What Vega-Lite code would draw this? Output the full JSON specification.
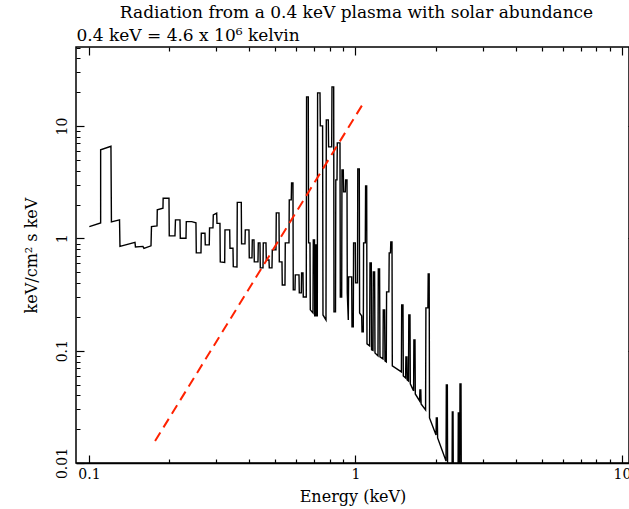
{
  "$schema": "https://vega.github.io/schema/vega-lite/v6.json",
  "usermeta": {"embedOptions": {"actions": false}},
  "width": 553,
  "height": 416,
  "autosize": {"type": "none"},
  "padding": {"left": 76, "top": 47, "right": 0, "bottom": 46},
  "background": "white",
  "config": {"view": {"stroke": "black", "strokeWidth": 1.5}, "font": "DejaVu Serif"},
  "title": {"text": "Radiation from a 0.4 keV plasma with solar abundance", "anchor": "middle", "fontSize": 17, "fontWeight": "normal", "font": "DejaVu Serif", "color": "black", "baseline": "alphabetic", "offset": -9, "dx": 4},
  "datasets": {
    "spectrum": [
      {"i":1,"E":0.1003,"F":1.274},{"i":2,"E":0.1106,"F":1.374},{"i":3,"E":0.1106,"F":6.14},{"i":4,"E":0.1209,"F":6.60},
      {"i":5,"E":0.1214,"F":1.403},{"i":6,"E":0.1302,"F":1.461},{"i":7,"E":0.1307,"F":0.849},{"i":8,"E":0.1488,"F":0.921},
      {"i":9,"E":0.1494,"F":0.840},{"i":10,"E":0.1594,"F":0.849},{"i":11,"E":0.1608,"F":0.815},{"i":12,"E":0.1709,"F":0.858},
      {"i":13,"E":0.1716,"F":1.274},{"i":14,"E":0.1800,"F":1.292},{"i":15,"E":0.1804,"F":1.794},{"i":16,"E":0.1895,"F":1.857},
      {"i":17,"E":0.1898,"F":2.280},{"i":18,"E":0.1996,"F":2.280},{"i":19,"E":0.2001,"F":1.053},{"i":20,"E":0.2102,"F":1.053},
      {"i":21,"E":0.2111,"F":1.461},{"i":22,"E":0.2195,"F":1.461},{"i":23,"E":0.2201,"F":1.004},{"i":24,"E":0.2312,"F":1.004},
      {"i":25,"E":0.2318,"F":1.411},{"i":26,"E":0.2429,"F":1.411},{"i":27,"E":0.2520,"F":1.374},{"i":28,"E":0.2527,"F":0.743},
      {"i":29,"E":0.2632,"F":0.743},{"i":30,"E":0.2639,"F":1.112},{"i":31,"E":0.2724,"F":1.112},{"i":32,"E":0.2731,"F":0.875},
      {"i":33,"E":0.2827,"F":0.875},{"i":34,"E":0.2834,"F":1.240},{"i":35,"E":0.2919,"F":1.240},{"i":36,"E":0.2927,"F":1.619},
      {"i":37,"E":0.3014,"F":1.676},{"i":38,"E":0.3022,"F":1.360},{"i":39,"E":0.3101,"F":1.360},{"i":40,"E":0.3109,"F":0.618},
      {"i":41,"E":0.3230,"F":0.611},{"i":42,"E":0.3238,"F":1.190},{"i":43,"E":0.3373,"F":1.190},{"i":44,"E":0.3381,"F":0.818},
      {"i":45,"E":0.3470,"F":0.818},{"i":46,"E":0.3479,"F":0.561},{"i":47,"E":0.3592,"F":0.557},{"i":48,"E":0.3601,"F":2.092},
      {"i":49,"E":0.3728,"F":2.092},{"i":50,"E":0.3737,"F":0.893},{"i":51,"E":0.3849,"F":0.893},{"i":52,"E":0.3859,"F":1.190},
      {"i":53,"E":0.3984,"F":1.190},{"i":54,"E":0.3994,"F":0.670},{"i":55,"E":0.4089,"F":0.670},{"i":56,"E":0.4100,"F":0.970},
      {"i":57,"E":0.4160,"F":0.970},{"i":58,"E":0.4171,"F":0.618},{"i":59,"E":0.4306,"F":0.618},{"i":60,"E":0.4318,"F":0.912},
      {"i":61,"E":0.4382,"F":0.912},{"i":62,"E":0.4393,"F":0.546},{"i":63,"E":0.4497,"F":0.546},{"i":64,"E":0.4508,"F":0.912},
      {"i":65,"E":0.4615,"F":0.912},{"i":66,"E":0.4627,"F":0.643},{"i":67,"E":0.4736,"F":0.643},{"i":68,"E":0.4748,"F":0.546},
      {"i":69,"E":0.4860,"F":0.546},{"i":70,"E":0.4873,"F":0.790},{"i":71,"E":0.5031,"F":0.790},{"i":72,"E":0.5044,"F":1.687},
      {"i":73,"E":0.5163,"F":1.687},{"i":74,"E":0.5177,"F":0.618},{"i":75,"E":0.5299,"F":0.618},{"i":76,"E":0.5312,"F":0.385},
      {"i":77,"E":0.5438,"F":0.385},{"i":78,"E":0.5452,"F":0.912},{"i":79,"E":0.5629,"F":0.912},{"i":80,"E":0.5643,"F":2.202},
      {"i":81,"E":0.5741,"F":2.202},{"i":82,"E":0.5756,"F":3.120},{"i":83,"E":0.5826,"F":3.120},{"i":84,"E":0.5841,"F":0.348},
      {"i":85,"E":0.5929,"F":0.348},{"i":86,"E":0.5944,"F":0.473},{"i":87,"E":0.6138,"F":0.473},{"i":88,"E":0.6153,"F":0.327},
      {"i":89,"E":0.6261,"F":0.327},{"i":90,"E":0.6277,"F":0.493},{"i":91,"E":0.6353,"F":0.493},{"i":92,"E":0.6369,"F":0.301},
      {"i":93,"E":0.6536,"F":0.301},{"i":94,"E":0.6553,"F":18.20},{"i":95,"E":0.6650,"F":18.20},{"i":96,"E":0.6668,"F":0.912},
      {"i":97,"E":0.6749,"F":0.912},{"i":98,"E":0.6767,"F":0.231},{"i":99,"E":0.6926,"F":0.217},{"i":100,"E":0.6945,"F":0.970},
      {"i":101,"E":0.7017,"F":0.970},{"i":102,"E":0.7029,"F":0.204},{"i":103,"E":0.7066,"F":0.204},{"i":104,"E":0.7078,"F":0.875},
      {"i":105,"E":0.7140,"F":0.875},{"i":106,"E":0.7152,"F":0.204},{"i":107,"E":0.7190,"F":0.204},{"i":108,"E":0.7208,"F":19.75},
      {"i":109,"E":0.7359,"F":19.75},{"i":110,"E":0.7378,"F":10.04},{"i":111,"E":0.7526,"F":10.04},{"i":112,"E":0.7551,"F":0.208},
      {"i":113,"E":0.7750,"F":0.188},{"i":114,"E":0.7770,"F":11.36},{"i":115,"E":0.7905,"F":11.36},{"i":116,"E":0.7926,"F":6.53},
      {"i":117,"E":0.8141,"F":6.53},{"i":118,"E":0.8162,"F":22.34},{"i":119,"E":0.8283,"F":22.34},{"i":120,"E":0.8304,"F":0.2216},
      {"i":121,"E":0.8414,"F":0.2216},{"i":122,"E":0.8436,"F":3.318},{"i":123,"E":0.8523,"F":3.318},{"i":124,"E":0.8545,"F":7.087},
      {"i":125,"E":0.8746,"F":7.087},{"i":126,"E":0.8770,"F":0.301},{"i":127,"E":0.8876,"F":0.301},{"i":128,"E":0.8898,"F":4.074},
      {"i":129,"E":0.8999,"F":4.074},{"i":130,"E":0.9022,"F":2.595},{"i":131,"E":0.9156,"F":2.595},{"i":132,"E":0.9182,"F":3.318},
      {"i":133,"E":0.9292,"F":3.318},{"i":134,"E":0.9316,"F":0.327},{"i":135,"E":0.9397,"F":0.188},{"i":136,"E":0.9421,"F":0.454},
      {"i":137,"E":0.9676,"F":0.454},{"i":138,"E":0.9703,"F":0.163},{"i":139,"E":0.9811,"F":0.163},{"i":140,"E":0.9837,"F":0.912},
      {"i":141,"E":0.9983,"F":0.912},{"i":142,"E":1.0009,"F":0.402},{"i":143,"E":1.0174,"F":0.402},{"i":144,"E":1.0200,"F":4.157},
      {"i":145,"E":1.0334,"F":4.157},{"i":146,"E":1.0361,"F":0.217},{"i":147,"E":1.0551,"F":0.204},{"i":148,"E":1.0578,"F":0.147},
      {"i":149,"E":1.0697,"F":0.147},{"i":150,"E":1.0725,"F":0.912},{"i":151,"E":1.0884,"F":0.912},{"i":152,"E":1.0912,"F":2.934},
      {"i":153,"E":1.1015,"F":2.934},{"i":154,"E":1.1045,"F":0.1149},{"i":155,"E":1.1295,"F":0.1103},{"i":156,"E":1.1334,"F":0.605},
      {"i":157,"E":1.1463,"F":0.605},{"i":158,"E":1.1492,"F":0.1017},{"i":159,"E":1.1633,"F":0.1006},{"i":160,"E":1.1663,"F":0.503},
      {"i":161,"E":1.1795,"F":0.503},{"i":162,"E":1.1836,"F":0.0956},{"i":163,"E":1.2145,"F":0.0899},{"i":164,"E":1.2178,"F":0.535},
      {"i":165,"E":1.2313,"F":0.535},{"i":166,"E":1.2356,"F":0.0881},{"i":167,"E":1.2681,"F":0.0845},{"i":168,"E":1.2713,"F":0.231},
      {"i":169,"E":1.2857,"F":0.231},{"i":170,"E":1.2902,"F":0.0811},{"i":171,"E":1.3048,"F":0.0795},{"i":172,"E":1.3082,"F":0.334},
      {"i":173,"E":1.3344,"F":0.334},{"i":174,"E":1.3381,"F":0.743},{"i":175,"E":1.3530,"F":0.743},{"i":176,"E":1.3567,"F":0.931},
      {"i":177,"E":1.3709,"F":0.931},{"i":178,"E":1.3745,"F":0.0732},{"i":179,"E":1.4867,"F":0.0648},{"i":180,"E":1.4904,"F":0.256},
      {"i":181,"E":1.5074,"F":0.256},{"i":182,"E":1.5115,"F":0.0596},{"i":183,"E":1.5417,"F":0.0572},{"i":184,"E":1.5457,"F":0.0881},
      {"i":185,"E":1.5592,"F":0.0881},{"i":186,"E":1.5631,"F":0.0550},{"i":187,"E":1.5808,"F":0.0538},{"i":188,"E":1.5849,"F":0.208},
      {"i":189,"E":1.6014,"F":0.208},{"i":190,"E":1.6055,"F":0.0506},{"i":191,"E":1.6520,"F":0.0439},{"i":192,"E":1.6562,"F":0.1248},
      {"i":193,"E":1.6722,"F":0.1248},{"i":194,"E":1.6764,"F":0.0412},{"i":195,"E":1.7398,"F":0.0357},{"i":196,"E":1.7446,"F":0.0448},
      {"i":197,"E":1.7580,"F":0.0448},{"i":198,"E":1.7628,"F":0.0336},{"i":199,"E":1.8323,"F":0.0297},{"i":200,"E":1.8374,"F":0.2405},
      {"i":201,"E":1.8694,"F":0.2405},{"i":202,"E":1.8742,"F":0.483},{"i":203,"E":1.8903,"F":0.483},{"i":204,"E":1.8955,"F":0.0252},
      {"i":205,"E":2.0052,"F":0.0178},{"i":206,"E":2.0103,"F":0.0252},{"i":207,"E":2.0275,"F":0.0252},{"i":208,"E":2.0331,"F":0.01673},
      {"i":209,"E":2.1862,"F":0.01044},{"i":210,"E":2.1918,"F":0.0496},{"i":211,"E":2.2113,"F":0.0496},{"i":212,"E":2.2169,"F":0.006},
      {"i":213,"E":2.3025,"F":0.006},{"i":214,"E":2.3084,"F":0.0285},{"i":215,"E":2.3226,"F":0.0285},{"i":216,"E":2.3287,"F":0.006},
      {"i":217,"E":2.4247,"F":0.006},{"i":218,"E":2.4309,"F":0.0279},{"i":219,"E":2.4500,"F":0.0279},{"i":220,"E":2.4544,"F":0.006},
      {"i":221,"E":2.4604,"F":0.006},{"i":222,"E":2.4666,"F":0.0506},{"i":223,"E":2.4883,"F":0.0506},{"i":224,"E":2.4945,"F":0.006}
    ],
    "model": [
      {"E": 0.177, "F": 0.0157},
      {"E": 1.067, "F": 15.8}
    ]
  },
  "layer": [
    {
      "data": {"name": "spectrum"},
      "mark": {"type": "line", "color": "black", "strokeWidth": 1.4, "clip": true, "strokeJoin": "miter"},
      "encoding": {
        "x": {
          "field": "E", "type": "quantitative",
          "scale": {"type": "log", "domain": [0.08939, 10.623], "nice": false, "zero": false},
          "axis": {
            "orient": "bottom",
            "values": [0.1,0.2,0.3,0.4,0.5,0.6,0.7,0.8,0.9,1,2,3,4,5,6,7,8,9,10],
            "format": "~g",
            "labelExpr": "abs(log(datum.value)/LN10-round(log(datum.value)/LN10))<0.001 ? datum.label : ''",
            "tickSize": -8,
            "tickDash": {"condition": {"test": "abs(log(datum.value)/LN10-round(log(datum.value)/LN10))<0.001", "value": [20, 1]}, "value": [4, 20]},
            "tickColor": "black", "tickWidth": 1.2,
            "domainColor": "black", "domainWidth": 1.5,
            "grid": false,
            "labelFont": "DejaVu Serif", "labelFontSize": 14, "labelColor": "black",
            "labelPadding": 12, "labelOverlap": false, "labelFlush": false,
            "title": "Energy (keV)", "titleFont": "DejaVu Serif", "titleFontSize": 16, "titleFontWeight": "normal", "titleColor": "black",
            "titleY": 38, "titleBaseline": "alphabetic"
          }
        },
        "y": {
          "field": "F", "type": "quantitative",
          "scale": {"type": "log", "domain": [0.01, 50.6], "nice": false, "zero": false},
          "axis": {
            "orient": "left", "offset": -8,
            "values": [0.01,0.02,0.03,0.04,0.05,0.06,0.07,0.08,0.09,0.1,0.2,0.3,0.4,0.5,0.6,0.7,0.8,0.9,1,2,3,4,5,6,7,8,9,10,20,30,40,50],
            "format": "~g",
            "labelExpr": "abs(log(datum.value)/LN10-round(log(datum.value)/LN10))<0.001 ? datum.label : ''",
            "tickSize": 8,
            "tickDash": {"condition": {"test": "abs(log(datum.value)/LN10-round(log(datum.value)/LN10))<0.001", "value": [20, 1]}, "value": [0, 4, 4, 20]},
            "tickColor": "black", "tickWidth": 1.2,
            "domain": false,
            "grid": false,
            "labelFont": "DejaVu Serif", "labelFontSize": 14, "labelColor": "black",
            "labelAngle": 270, "labelAlign": "center", "labelBaseline": "alphabetic",
            "labelPadding": 10, "labelOverlap": false, "labelFlush": false,
            "title": "keV/cm² s keV", "titleFont": "DejaVu Serif", "titleFontSize": 16, "titleFontWeight": "normal", "titleColor": "black",
            "titleAngle": 270, "titleX": -48, "titleBaseline": "alphabetic"
          }
        },
        "order": {"field": "i", "type": "quantitative"}
      }
    },
    {
      "data": {"name": "model"},
      "mark": {"type": "line", "color": "#ff2200", "strokeWidth": 2, "strokeDash": [10, 6], "clip": true},
      "encoding": {
        "x": {
          "field": "E", "type": "quantitative",
          "scale": {"type": "log", "domain": [0.08939, 10.623], "nice": false, "zero": false},
          "axis": {
            "orient": "top", "offset": -8,
            "values": [0.1,0.2,0.3,0.4,0.5,0.6,0.7,0.8,0.9,1,2,3,4,5,6,7,8,9,10],
            "labels": false,
            "tickSize": 8,
            "tickDash": {"condition": {"test": "abs(log(datum.value)/LN10-round(log(datum.value)/LN10))<0.001", "value": [20, 1]}, "value": [0, 4, 4, 20]},
            "tickColor": "black", "tickWidth": 1.2,
            "domain": false,
            "grid": false,
            "title": "0.4 keV = 4.6 x 10⁶ kelvin", "titleFont": "DejaVu Serif", "titleFontSize": 17, "titleFontWeight": "normal", "titleColor": "black",
            "titleAnchor": "start", "titleAlign": "left", "titleBaseline": "alphabetic", "titleX": 0, "titleY": -15
          }
        },
        "y": {
          "field": "F", "type": "quantitative",
          "scale": {"type": "log", "domain": [0.01, 50.6], "nice": false, "zero": false},
          "axis": {
            "orient": "right", "offset": 7,
            "values": [0.01,0.02,0.03,0.04,0.05,0.06,0.07,0.08,0.09,0.1,0.2,0.3,0.4,0.5,0.6,0.7,0.8,0.9,1,2,3,4,5,6,7,8,9,10,20,30,40,50],
            "labels": false, "domain": false,
            "tickSize": -8,
            "tickDash": {"condition": {"test": "abs(log(datum.value)/LN10-round(log(datum.value)/LN10))<0.001", "value": [20, 1]}, "value": [4, 20]},
            "tickColor": "black", "tickWidth": 1.2,
            "grid": false, "title": null
          }
        }
      }
    }
  ]
}
